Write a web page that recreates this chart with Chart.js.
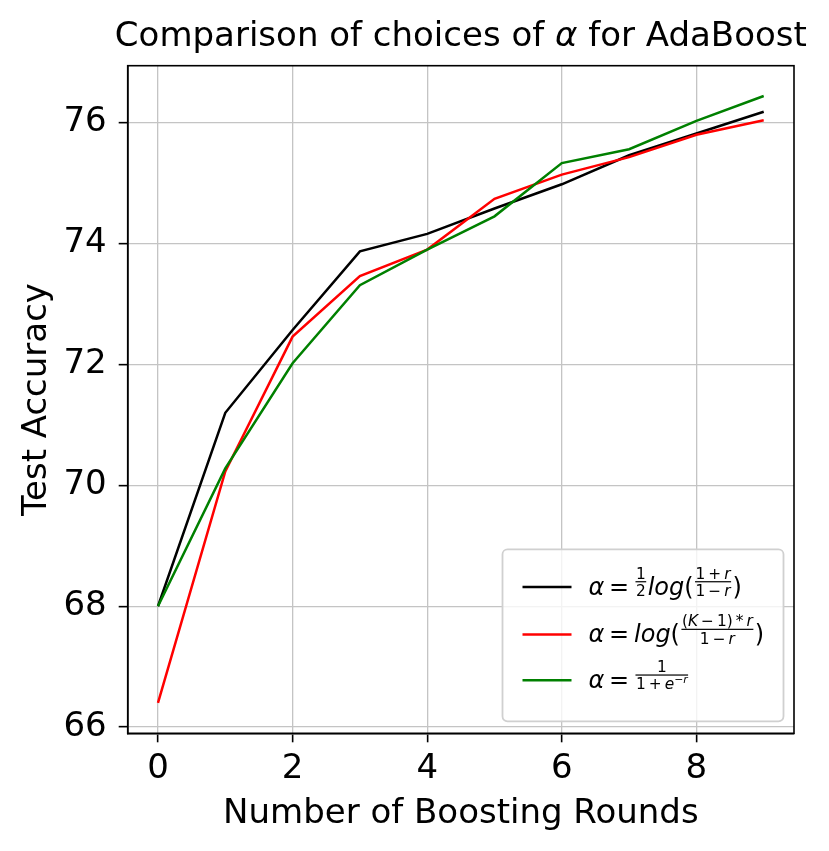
<!DOCTYPE html>
<html><head><meta charset="utf-8">
<script src="https://cdn.jsdelivr.net/npm/chart.js@4.4.0/dist/chart.umd.min.js"></script>
<style>html,body{margin:0;padding:0;background:#fff;overflow:hidden}canvas{display:block}</style>
</head><body>
<canvas id="c" width="829" height="851"></canvas>
<script>
const rounds = [0, 1, 2, 3, 4, 5, 6, 7, 8, 9];
const alphaHalfLog = [68.0, 71.2, 72.57, 73.87, 74.16, 74.58, 74.98, 75.46, 75.82, 76.18];
const alphaLogK = [66.4, 70.23, 72.46, 73.46, 73.90, 74.74, 75.14, 75.43, 75.80, 76.04];
const alphaSigmoid = [68.0, 70.28, 72.02, 73.31, 73.90, 74.45, 75.33, 75.56, 76.03, 76.44];
const xTicks = [0, 2, 4, 6, 8];
const yTicks = [66, 68, 70, 72, 74, 76];
const titleParts = [["Comparison of choices of ", false], ["α", true], [" for AdaBoost", false]];
const xLabel = "Number of Boosting Rounds";
const yLabel = "Test Accuracy";
const seriesColors = ["#000000", "#ff0000", "#008000"];
// legend labels as small math token lists
const legendMath = [
  [{s:"α",it:true},{s:"=",op:true},{frac:[[{s:"1"}],[{s:"2"}]]},{s:"log",it:true},{s:"("},
   {frac:[[{s:"1"},{s:"+",op:true},{s:"r",it:true}],[{s:"1"},{s:"−",op:true},{s:"r",it:true}]]},{s:")"}],
  [{s:"α",it:true},{s:"=",op:true},{s:"log",it:true},{s:"("},
   {frac:[[{s:"("},{s:"K",it:true},{s:"−",op:true},{s:"1)"},{s:"*",op:true},{s:"r",it:true}],[{s:"1"},{s:"−",op:true},{s:"r",it:true}]]},{s:")"}],
  [{s:"α",it:true},{s:"=",op:true},
   {frac:[[{s:"1"}],[{s:"1"},{s:"+",op:true},{s:"e",it:true},{sup:[{s:"−"},{s:"r",it:true}]}]]}]
];

const FONT = '"DejaVu Sans"';
const TXT = 34;

function mathLayout(ctx, toks, size, draw, x, base) {
  let cx = x;
  for (const tk of toks) {
    if (tk.frac) {
      const fs = size * 0.64;
      const wn = mathLayout(ctx, tk.frac[0], fs, false, 0, 0);
      const wd = mathLayout(ctx, tk.frac[1], fs, false, 0, 0);
      const w = Math.max(wn, wd) + size * 0.16;
      if (draw) {
        const bar = base - size * 0.54;
        ctx.fillRect(cx + size * 0.06, bar - 0.6, w - size * 0.12, 1.2);
        mathLayout(ctx, tk.frac[0], fs, true, cx + (w - wn) / 2, bar - 3);
        mathLayout(ctx, tk.frac[1], fs, true, cx + (w - wd) / 2, bar + 3 + fs * 0.73);
      }
      cx += w;
    } else if (tk.sup) {
      const fs = size * 0.7;
      const w = mathLayout(ctx, tk.sup, fs, false, 0, 0);
      if (draw) mathLayout(ctx, tk.sup, fs, true, cx, base - size * 0.42);
      cx += w;
    } else {
      ctx.font = (tk.it ? "italic " : "") + size + "px " + FONT;
      const pad = tk.op ? size * 0.2 : 0;
      const w = ctx.measureText(tk.s).width;
      if (draw) ctx.fillText(tk.s, cx + pad, base);
      cx += w + 2 * pad;
    }
  }
  return cx - x;
}

const decorPlugin = {
  id: "decor",
  afterDraw(chart) {
    const ctx = chart.ctx;
    const a = chart.chartArea;
    ctx.save();
    ctx.strokeStyle = "#000";
    ctx.lineWidth = 1.6;
    ctx.strokeRect(a.left, a.top, a.right - a.left, a.bottom - a.top);
    ctx.fillStyle = "#000";
    ctx.textBaseline = "alphabetic";
    let tw = 0;
    const parts = titleParts.map(([t, it]) => {
      ctx.font = (it ? "italic " : "") + TXT + "px " + FONT;
      const w = ctx.measureText(t).width; tw += w; return [t, it, w];
    });
    let tx = (a.left + a.right) / 2 - tw / 2;
    for (const [t, it, w] of parts) {
      ctx.font = (it ? "italic " : "") + TXT + "px " + FONT;
      ctx.fillText(t, tx, 46); tx += w;
    }
    ctx.font = TXT + "px " + FONT;
    ctx.textAlign = "center";
    ctx.fillText(xLabel, (a.left + a.right) / 2, 823);
    ctx.save();
    ctx.translate(46, (a.top + a.bottom) / 2);
    ctx.rotate(-Math.PI / 2);
    ctx.fillText(yLabel, 0, 0);
    ctx.restore();
    ctx.textAlign = "left";
    const bx = a.right - 10.5, by = a.bottom - 12;
    const lw = 281, lh = 172;
    const L = bx - lw, T = by - lh;
    ctx.beginPath();
    if (ctx.roundRect) ctx.roundRect(L, T, lw, lh, 5); else ctx.rect(L, T, lw, lh);
    ctx.fillStyle = "rgba(255,255,255,0.8)";
    ctx.fill();
    ctx.strokeStyle = "#d0d0d0";
    ctx.lineWidth = 1.8;
    ctx.stroke();
    const rowY = [37.7, 85.3, 131];
    legendMath.forEach((toks, i) => {
      const y = T + rowY[i];
      ctx.strokeStyle = seriesColors[i];
      ctx.lineWidth = 2.5;
      ctx.beginPath();
      ctx.moveTo(L + 20, y); ctx.lineTo(L + 69, y);
      ctx.stroke();
      ctx.fillStyle = "#000";
      mathLayout(ctx, toks, 24, true, L + 86, y + 7.7);
    });
    ctx.restore();
  }
};

const mk = (label, arr, color, order) => ({
  label, data: rounds.map((r, i) => ({x: r, y: arr[i]})),
  borderColor: color, backgroundColor: color, borderWidth: 2.5,
  pointRadius: 0, tension: 0, fill: false, order
});

new Chart(document.getElementById("c"), {
  type: "line",
  data: {
    datasets: [
      mk("α = ½ log((1+r)/(1−r))", alphaHalfLog, seriesColors[0], 3),
      mk("α = log((K−1)*r/(1−r))", alphaLogK, seriesColors[1], 2),
      mk("α = 1/(1+e^−r)", alphaSigmoid, seriesColors[2], 1)
    ]
  },
  options: {
    responsive: false,
    animation: false,
    devicePixelRatio: 1,
    layout: { padding: { top: 65.7, right: 35, left: 0, bottom: 0 } },
    plugins: { legend: { display: false }, title: { display: false }, tooltip: { enabled: false } },
    scales: {
      x: {
        type: "linear", min: -0.45, max: 9.45,
        afterBuildTicks: s => { s.ticks = xTicks.map(v => ({ value: v })); },
        afterFit: s => { s.height = 117.7; },
        ticks: { color: "#000", font: { family: "DejaVu Sans", size: TXT }, padding: 6, maxRotation: 0 },
        grid: { color: "#c4c4c4", lineWidth: 1.3, tickColor: "#000", tickWidth: 1.6, tickLength: 9 },
        border: { color: "#000", width: 1.6 }
      },
      y: {
        type: "linear", min: 65.898, max: 76.942,
        afterBuildTicks: s => { s.ticks = yTicks.map(v => ({ value: v })); },
        afterFit: s => { s.width = 127.7; },
        ticks: { color: "#000", font: { family: "DejaVu Sans", size: TXT }, padding: 12 },
        grid: { color: "#c4c4c4", lineWidth: 1.3, tickColor: "#000", tickWidth: 1.6, tickLength: 9 },
        border: { color: "#000", width: 1.6 }
      }
    }
  },
  plugins: [decorPlugin]
});
</script>
</body></html>
